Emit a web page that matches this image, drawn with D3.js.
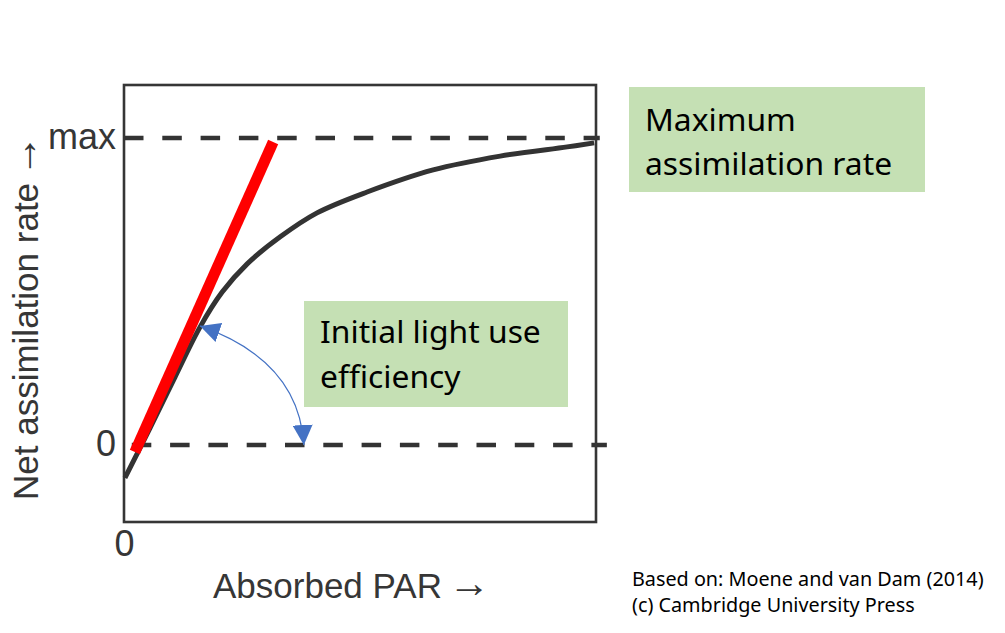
<!DOCTYPE html>
<html>
<head>
<meta charset="utf-8">
<script src="https://cdn.jsdelivr.net/npm/d3@7"></script>
<style>
  html, body { margin: 0; padding: 0; background: #fff; }
  svg { display: block; }
</style>
</head>
<body>
<svg id="chart" width="1005" height="633"></svg>
<script>
// ---- data (relative units: x = absorbed PAR, y = net assimilation rate / max) ----
const curvePAR = [0.002, 0.055, 0.108, 0.161, 0.208, 0.261, 0.331, 0.409, 0.515, 0.655, 0.797, 0.939, 0.996];
const curveRate = [-0.107, 0.055, 0.221, 0.384, 0.498, 0.590, 0.678, 0.756, 0.824, 0.896, 0.941, 0.971, 0.984];
const tangentPAR = [0.023, 0.316];
const tangentRate = [-0.023, 0.987];
const yTickValues = [0, 1];
const yTickLabels = ["0", "max"];
const xTickValues = [0];
const xTickLabels = ["0"];
const refLevels = [1, 0];
const refEnds = [1.008, 1.023];
// angle annotation arrow (start on curve, two control points, end on zero line)
const arcPAR = [0.161, 0.278, 0.373, 0.381];
const arcRate = [0.388, 0.325, 0.212, 0.0];
const xLabel = "Absorbed PAR";
const yLabel = "Net assimilation rate";
const boxTexts = [["Maximum", "assimilation rate"], ["Initial light use", "efficiency"]];
const sourceLines = ["Based on: Moene and van Dam (2014)", "(c) Cambridge University Press"];

// ---- layout ----
const svg = d3.select("#chart");
const mLeft = 124, mRight = 596, mTop = 85, mBottom = 522;
const x = d3.scaleLinear().domain([0, 1]).range([mLeft, mRight]);
const y = d3.scaleLinear().domain([-0.2508, 1.1726]).range([mBottom, mTop]);
const axisColor = "#363636";
const axisFont = "'Liberation Sans', Arial, Helvetica, sans-serif";

// reference dashed lines
refLevels.forEach((lv, i) => {
  svg.append("line")
    .attr("x1", x(0)).attr("x2", x(refEnds[i]))
    .attr("y1", y(lv)).attr("y2", y(lv))
    .attr("stroke", "#333").attr("stroke-width", 4.5)
    .attr("stroke-dasharray", "19.5,18.8")
    .attr("stroke-dashoffset", i === 0 ? 0 : -7.8);
});

// frame
svg.append("rect")
  .attr("x", mLeft).attr("y", mTop)
  .attr("width", mRight - mLeft).attr("height", mBottom - mTop)
  .attr("fill", "none").attr("stroke", axisColor).attr("stroke-width", 2.6);

// curve
const curveData = curvePAR.map((p, i) => [p, curveRate[i]]);
const line = d3.line().x(d => x(d[0])).y(d => y(d[1])).curve(d3.curveCatmullRom.alpha(0.5));
svg.append("path").datum(curveData)
  .attr("d", line)
  .attr("fill", "none").attr("stroke", "#333").attr("stroke-width", 5)
  .attr("stroke-linejoin", "round");

// initial tangent (red)
svg.append("line")
  .attr("x1", x(tangentPAR[0])).attr("y1", y(tangentRate[0]))
  .attr("x2", x(tangentPAR[1])).attr("y2", y(tangentRate[1]))
  .attr("stroke", "#ff0000").attr("stroke-width", 11).attr("stroke-linecap", "butt");

// axes (ticks as labels only)
const yAxis = d3.axisLeft(y).tickValues(yTickValues)
  .tickFormat((d, i) => yTickLabels[i]).tickSize(0).tickPadding(8);
const gy = svg.append("g").attr("transform", `translate(${mLeft},0)`).call(yAxis);
gy.select(".domain").remove();
gy.selectAll("text").attr("font-family", axisFont).attr("font-size", 36).attr("fill", axisColor)
  .attr("dy", "0.28em");

const xAxis = d3.axisBottom(x).tickValues(xTickValues)
  .tickFormat((d, i) => xTickLabels[i]).tickSize(0).tickPadding(8);
const gx = svg.append("g").attr("transform", `translate(0,${mBottom})`).call(xAxis);
gx.select(".domain").remove();
gx.selectAll("text").attr("font-family", axisFont).attr("font-size", 36).attr("fill", axisColor);

// axis titles
const xt = svg.append("text")
  .attr("x", 213).attr("y", 598)
  .attr("font-family", axisFont).attr("font-size", 35).attr("fill", axisColor);
xt.append("tspan").text(xLabel);
xt.append("tspan").attr("dx", 6).attr("font-size", 42).attr("dy", -1).text("\u2192");

const yt = svg.append("text")
  .attr("transform", "translate(38,500) rotate(-90)")
  .attr("font-family", axisFont).attr("font-size", 35).attr("fill", axisColor);
yt.append("tspan").text(yLabel);
yt.append("tspan").attr("dx", 6).attr("font-size", 42).attr("dy", -1).text("\u2192");

// annotation boxes
const boxFont = "'Noto Sans', 'Open Sans', sans-serif";
const boxes = [
  { x: 629, y: 87, w: 296, h: 105, tx: 645, ty: [131, 175], lines: boxTexts[0] },
  { x: 304, y: 301, w: 264, h: 106, tx: 320, ty: [343, 388], lines: boxTexts[1] }
];
boxes.forEach(b => {
  svg.append("rect").attr("x", b.x).attr("y", b.y).attr("width", b.w).attr("height", b.h)
    .attr("fill", "#c5e0b4");
  b.lines.forEach((t, i) => {
    svg.append("text").attr("x", b.tx).attr("y", b.ty[i])
      .attr("font-family", boxFont).attr("font-size", 31.8).attr("fill", "#000").text(t);
  });
});

// blue double-headed arc arrow
const defs = svg.append("defs");
defs.append("marker").attr("id", "ah").attr("viewBox", "0 0 10 10")
  .attr("refX", 10).attr("refY", 5).attr("markerWidth", 20).attr("markerHeight", 20)
  .attr("markerUnits", "userSpaceOnUse").attr("orient", "auto-start-reverse")
  .append("path").attr("d", "M0,0 L10,5 L0,10 Z").attr("fill", "#4472c4");
const ap = d3.path();
ap.moveTo(x(arcPAR[0]), y(arcRate[0]));
ap.bezierCurveTo(x(arcPAR[1]), y(arcRate[1]), x(arcPAR[2]), y(arcRate[2]), x(arcPAR[3]), y(arcRate[3]));
svg.append("path").attr("d", ap.toString())
  .attr("fill", "none").attr("stroke", "#4472c4").attr("stroke-width", 1.2)
  .attr("marker-start", "url(#ah)").attr("marker-end", "url(#ah)");

// source note
sourceLines.forEach((t, i) => {
  svg.append("text").attr("x", 632).attr("y", 586 + i * 26)
    .attr("font-family", boxFont).attr("font-size", 19.8).attr("fill", "#000").text(t);
});
</script>
</body>
</html>
